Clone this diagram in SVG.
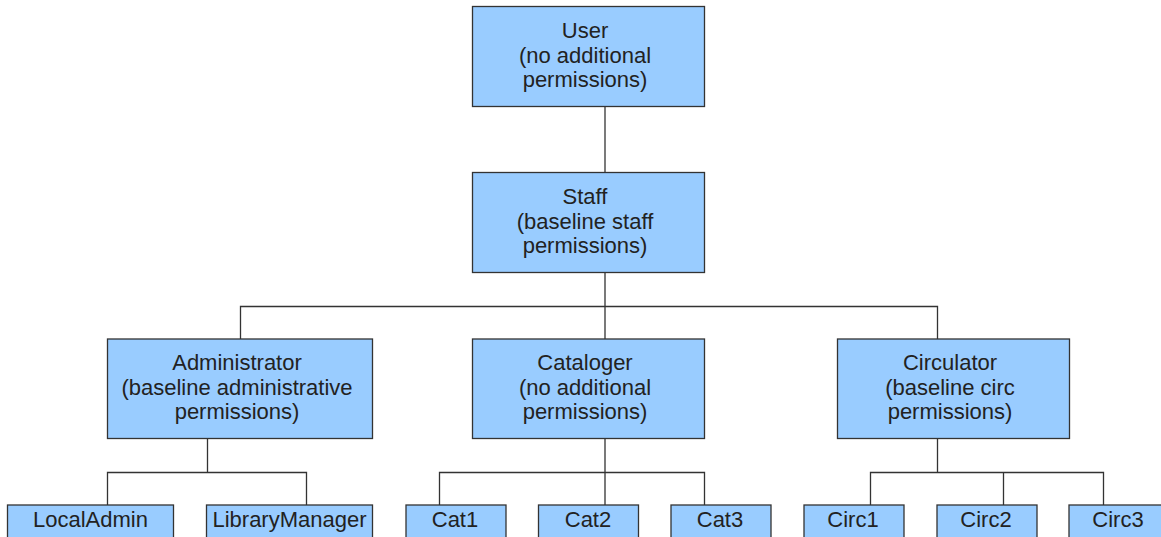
<svg xmlns="http://www.w3.org/2000/svg" width="1161" height="537" viewBox="0 0 1161 537">
<style>
.box{fill:#99ccff;stroke:#333;stroke-width:1.3}
.t{font-family:"Liberation Sans",Arial,sans-serif;font-size:22px;fill:#222;text-anchor:middle}
.c{fill:none;stroke:#333;stroke-width:1.3}
</style>
<rect width="1161" height="537" fill="#fff"/>
<g id="connectors">
<path class="c" d="M605 106.5V172.5"/>
<path class="c" d="M605 272.5V306.5H240.5V339M605 306.5H937.5V339M605 306.5V339"/>
<path class="c" d="M207.5 438.5V472.5H107.5V505M207.5 472.5H306.5V505"/>
<path class="c" d="M605 438.5V505M439.5 505V472.5H704.5V505"/>
<path class="c" d="M937.5 438.5V472.5M870.5 505V472.5H1103.5V505M1003.5 472.5V505"/>
</g>
<g id="user"><rect class="box" x="472.5" y="6.5" width="232" height="100"/>
<text class="t" x="585" y="38">User</text><text class="t" x="585" y="62.5">(no additional</text><text class="t" x="585" y="87">permissions)</text></g>
<g id="staff"><rect class="box" x="472.5" y="172.5" width="232" height="100"/>
<text class="t" x="585" y="204">Staff</text><text class="t" x="585" y="228.5">(baseline staff</text><text class="t" x="585" y="253">permissions)</text></g>
<g id="administrator"><rect class="box" x="107.5" y="339" width="265" height="99.5"/>
<text class="t" x="237" y="370">Administrator</text><text class="t" x="237" y="394.5">(baseline administrative</text><text class="t" x="237" y="419">permissions)</text></g>
<g id="cataloger"><rect class="box" x="472.5" y="339" width="232" height="99.5"/>
<text class="t" x="585" y="370">Cataloger</text><text class="t" x="585" y="394.5">(no additional</text><text class="t" x="585" y="419">permissions)</text></g>
<g id="circulator"><rect class="box" x="837.5" y="339" width="232" height="99.5"/>
<text class="t" x="950" y="370">Circulator</text><text class="t" x="950" y="394.5">(baseline circ</text><text class="t" x="950" y="419">permissions)</text></g>
<g id="localadmin"><rect class="box" x="7.5" y="505" width="166" height="50"/><text class="t" x="90.5" y="527">LocalAdmin</text></g>
<g id="librarymanager"><rect class="box" x="206.5" y="505" width="166" height="50"/><text class="t" x="289.5" y="527">LibraryManager</text></g>
<g id="cat1"><rect class="box" x="406" y="505" width="100" height="50"/><text class="t" x="455" y="527">Cat1</text></g>
<g id="cat2"><rect class="box" x="538.5" y="505" width="100" height="50"/><text class="t" x="588" y="527">Cat2</text></g>
<g id="cat3"><rect class="box" x="671" y="505" width="100" height="50"/><text class="t" x="720" y="527">Cat3</text></g>
<g id="circ1"><rect class="box" x="804" y="505" width="100" height="50"/><text class="t" x="853" y="527">Circ1</text></g>
<g id="circ2"><rect class="box" x="937" y="505" width="100" height="50"/><text class="t" x="986" y="527">Circ2</text></g>
<g id="circ3"><rect class="box" x="1069" y="505" width="100" height="50"/><text class="t" x="1118" y="527">Circ3</text></g>
</svg>
